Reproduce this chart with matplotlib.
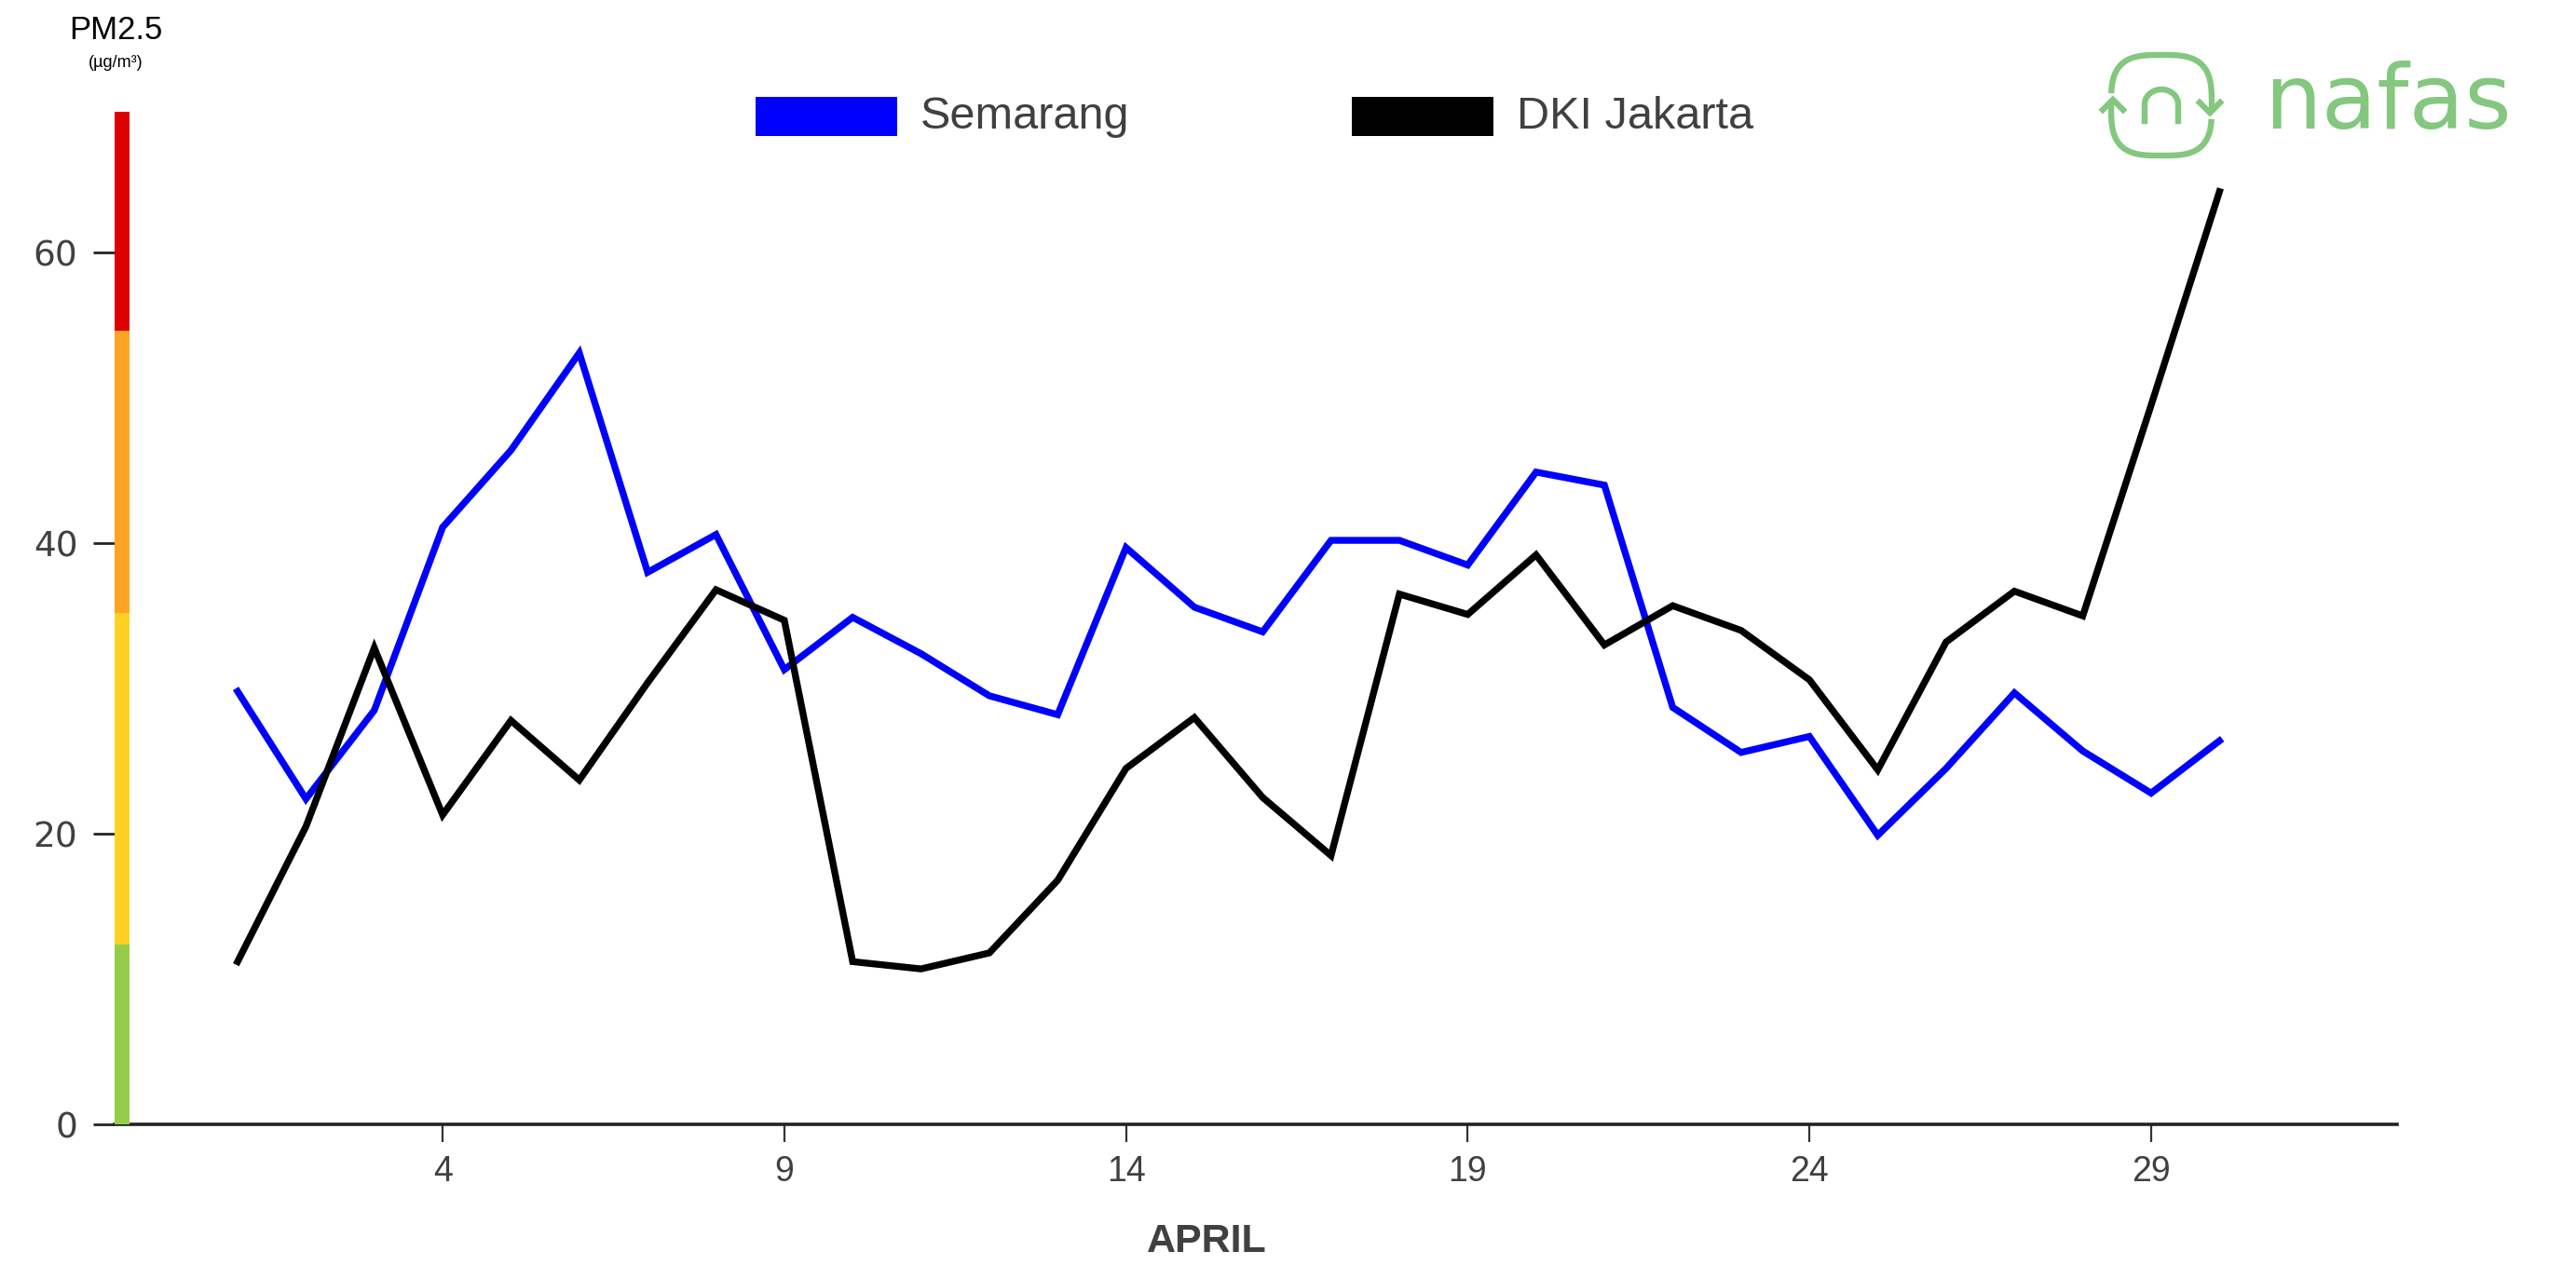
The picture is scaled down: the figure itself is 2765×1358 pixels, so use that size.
import numpy as np
import matplotlib
matplotlib.use('Agg')
import matplotlib.pyplot as plt
from matplotlib.patches import Rectangle

# PM2.5 daily averages, April
days = list(range(1, 31))
semarang = [29.8, 22.4, 28.5, 41.1, 46.4, 53.1, 38.0, 40.6, 31.3, 34.9,
            32.4, 29.5, 28.2, 39.7, 35.6, 33.9, 40.2, 40.2, 38.5, 44.9,
            44.0, 28.7, 25.6, 26.7, 19.9, 24.5, 29.7, 25.7, 22.8, 26.4]
jakarta = [11.2, 20.5, 32.8, 21.3, 27.8, 23.7, 30.4, 36.8, 34.7, 11.2,
           10.7, 11.8, 16.8, 24.5, 28.0, 22.5, 18.5, 36.5, 35.1, 39.2,
           33.0, 35.7, 34.0, 30.6, 24.4, 33.2, 36.7, 35.0, 49.5, 64.2]
series_names = ['Semarang', 'DKI Jakarta']
series_colors = ['#0000ff', '#000000']
xticks = [4, 9, 14, 19, 24, 29]
yticks = [0, 20, 40, 60]

# air quality bands for the scale bar on the left
band_edges = [0, 12.4, 35.2, 54.6, 69.7]
band_colors = ['#93cd49', '#fed024', '#fea324', '#dd0000']

W, H = 2765, 1358
fig = plt.figure(figsize=(W / 100, H / 100), dpi=100)
fig.patch.set_facecolor('white')

def fx(px):
    return px / W

def fy(py):
    return 1 - py / H

ax = fig.add_axes([fx(123), fy(1207), fx(2573) - fx(123), fy(120) - fy(1207)])
ax.plot(days, semarang, color=series_colors[0], lw=5.3, solid_joinstyle='miter', zorder=3)
ax.plot(days, jakarta, color=series_colors[1], lw=5.3, solid_joinstyle='miter', zorder=3)
ax.set_xlim(-0.80, 32.6)
ax.set_ylim(0, band_edges[-1])

for spine in ['top', 'right', 'left']:
    ax.spines[spine].set_visible(False)
ax.spines['bottom'].set_color('#222222')
ax.spines['bottom'].set_linewidth(2.6)

ax.set_xticks(xticks)
ax.set_xticklabels([str(t) for t in xticks], fontsize=27, family='Liberation Sans', color='#404040')
ax.set_yticks(yticks)
ax.set_yticklabels([str(t) for t in yticks], fontsize=27, family='DejaVu Sans', color='#404040')
ax.tick_params(axis='x', length=14, width=1.6, color='#333333', pad=10)
ax.tick_params(axis='y', length=16.5, width=2, color='#222222', pad=12)

# colour scale bar hugging the y axis
ytrans = ax.get_yaxis_transform()
for i in range(len(band_colors)):
    ax.add_patch(Rectangle((0, band_edges[i]), 16 / 2450, band_edges[i + 1] - band_edges[i],
                           transform=ytrans, color=band_colors[i], lw=0, zorder=4, clip_on=False))

# legend drawn by hand at top
fig.patches.append(Rectangle((fx(811), fy(146)), fx(963) - fx(811), fy(104) - fy(146),
                             transform=fig.transFigure, color=series_colors[0], lw=0))
fig.text(fx(988), fy(125), series_names[0], fontsize=35, family='Liberation Sans',
         color='#404040', va='center', ha='left')
fig.patches.append(Rectangle((fx(1451), fy(146)), fx(1603) - fx(1451), fy(104) - fy(146),
                             transform=fig.transFigure, color=series_colors[1], lw=0))
fig.text(fx(1628), fy(125), series_names[1], fontsize=35, family='Liberation Sans',
         color='#404040', va='center', ha='left')

# axis titles
fig.text(fx(124), fy(33), 'PM2.5', fontsize=25, family='Liberation Sans', color='black',
         ha='center', va='center')
fig.text(fx(124), fy(67), '(µg/m³)', fontsize=13, family='Liberation Sans', color='black',
         ha='center', va='center')
fig.text(fx(1295), fy(1333), 'APRIL', fontsize=31, family='Liberation Sans', weight='bold',
         color='#404040', ha='center', va='center')

# nafas logo
green = '#84c77f'
lax = fig.add_axes([fx(2240), fy(190), fx(2400) - fx(2240), fy(40) - fy(190)])
lax.set_xlim(2240, 2400)
lax.set_ylim(190, 40)
lax.axis('off')
cx, cy, r = 2320, 113, 54
t = np.linspace(0, 2 * np.pi, 400)
n = 3.2
px = cx + r * np.sign(np.cos(t)) * np.abs(np.cos(t)) ** (2 / n)
py = cy - r * np.sign(np.sin(t)) * np.abs(np.sin(t)) ** (2 / n)
top = (py < 102) | ((px > cx) & (py < 120))
bot = (py > 127) | ((px < cx) & (py > 108))
lax.plot(np.where(top & ~((px < cx) & (py > 101)), px, np.nan), py, color=green, lw=4.6,
         solid_capstyle='butt')
lax.plot(np.where(bot & ~((px > cx) & (py < 127)), px, np.nan), py, color=green, lw=4.6,
         solid_capstyle='butt')
lax.plot([2257, 2268, 2279], [118, 107, 118], color=green, lw=4.6, solid_joinstyle='miter')
lax.plot([2361, 2372, 2383], [110, 121, 110], color=green, lw=4.6, solid_joinstyle='miter')
a = np.linspace(np.pi, 0, 60)
lax.plot(np.concatenate([[2302], 2320 + 18 * np.cos(a), [2338]]),
         np.concatenate([[130], 112 - 16 * np.sin(a), [130]]), color=green, lw=4.6)

fig.text(fx(2563), fy(138), 'nafas', fontsize=70, family='DejaVu Sans', color=green,
         ha='center', va='baseline')

fig.savefig('out.png', dpi=100, facecolor='white')
